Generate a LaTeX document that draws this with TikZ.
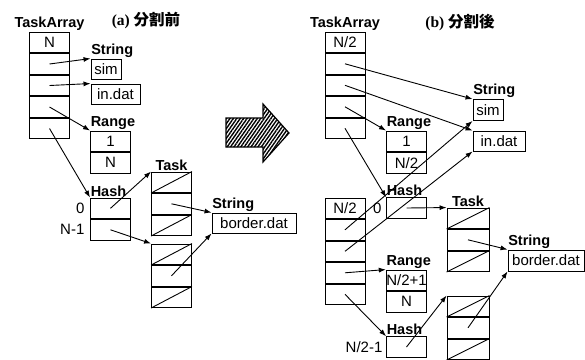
\documentclass[tikz,border=0pt]{standalone}
\usepackage{fontspec}
\setmainfont{Liberation Serif}
\setsansfont{Liberation Sans}
\newfontfamily\jpfont{Noto Sans CJK JP}
\usepackage{tikz}
\usetikzlibrary{arrows.meta,positioning,patterns.meta}
\tikzset{
  cell/.style={rectangle, draw=black, line width=0.9pt, inner sep=0pt, minimum width=40pt, minimum height=20.6pt, font=\sffamily\fontsize{15}{15}\selectfont},
  strbox/.style={rectangle, draw=black, line width=0.9pt, inner sep=0pt, minimum height=20pt, font=\sffamily\fontsize{15}{15}\selectfont},
  lbl/.style={inner sep=0.5pt, font=\sffamily\bfseries\fontsize{14.5}{15}\selectfont},
  idx/.style={inner sep=0.5pt, font=\sffamily\fontsize{15}{15}\selectfont},
  captxt/.style={inner sep=0pt, font=\fontsize{15.5}{16}\selectfont},
  ptr/.style={-{Latex[length=7pt,width=5pt]}, line width=0.9pt},
  slash/.style={line width=0.9pt},
  hatcharrow/.style={draw=black, line width=1.2pt, pattern={Lines[angle=55,distance=2.8pt,line width=1.4pt]}}
}
\begin{document}
\begin{tikzpicture}[x=1pt, y=-1pt]
  \useasboundingbox (0,0) rectangle (585,359);

  \node[captxt] (capa) at (146,21) {\textbf{(a)} {\jpfont\bfseries 分割前}};
  \node[captxt] (capb) at (460,22) {\textbf{(b)} {\jpfont\bfseries 分割後}};

  \node[cell] (lta1) at (49.5,42.5) {N};
  \node[cell, below=0pt of lta1] (lta2) {};
  \node[cell, below=0pt of lta2] (lta3) {};
  \node[cell, below=0pt of lta3] (lta4) {};
  \node[cell, below=0pt of lta4] (lta5) {};
  \node[lbl, above=0.5pt of lta1] (ltaname) {TaskArray};

  \node[strbox, minimum width=30pt] (lsim) at (106,69) {sim};
  \node[strbox, minimum width=49pt] (lindat) at (115.5,94) {in.dat};
  \node[lbl, above=0.5pt of lsim.north west, anchor=south west] (lsimname) {String};

  \node[cell] (lrng1) at (110.5,141.3) {1};
  \node[cell, below=0pt of lrng1] (lrng2) {N};
  \node[lbl, above=0.5pt of lrng1.north west, anchor=south west] (lrngname) {Range};

  \node[cell] (lhash1) at (110.5,208.3) {};
  \node[cell, below=0pt of lhash1] (lhash2) {};
  \node[lbl, above=0.5pt of lhash1.north west, anchor=south west] (lhashname) {Hash};
  \node[idx, left=5pt of lhash1] (lidx0) {0};
  \node[idx, left=5pt of lhash2] (lidxn) {N-1};

  \node[cell] (ltask1a) at (171.5,182.3) {};
  \node[cell, below=0pt of ltask1a] (ltask1b) {};
  \node[cell, below=0pt of ltask1b] (ltask1c) {};
  \node[lbl, above=0.5pt of ltask1a] (ltaskname) {Task};
  \node[cell] (ltask2a) at (171.5,254.3) {};
  \node[cell, below=0pt of ltask2a] (ltask2b) {};
  \node[cell, below=0pt of ltask2b] (ltask2c) {};

  \node[strbox, minimum width=84pt] (lstr) at (254,223) {border.dat};
  \node[lbl, above=0.5pt of lstr.north west, anchor=south west] (lstrname) {String};

  \draw[slash] (ltask1a.south west) -- (ltask1a.north east);
  \draw[slash] (ltask1c.south west) -- (ltask1c.north east);
  \draw[slash] (ltask2a.south west) -- (ltask2a.north east);
  \draw[slash] (ltask2c.south west) -- (ltask2c.north east);

  \draw[ptr] (lta2.center) -- (lsim.north west);
  \draw[ptr] (lta3.center) -- (lindat.north west);
  \draw[ptr] (lta4.center) -- (lrng1.north west);
  \draw[ptr] (lta5.center) -- (lhash1.north west);
  \draw[ptr] (lhash1.center) -- (ltask1a.north west);
  \draw[ptr] (lhash2.center) -- (ltask2a.north west);
  \draw[ptr] (ltask1b.center) -- (lstr.north west);
  \draw[ptr] (ltask2b.center) -- (lstr.south west);

  \draw[hatcharrow] (226,118) -- (263,118) -- (263,104) -- (289,133) -- (263,162) -- (263,147) -- (226,147) -- cycle;

  \node[cell] (rta1) at (345,42.3) {N/2};
  \node[cell, below=0pt of rta1] (rta2) {};
  \node[cell, below=0pt of rta2] (rta3) {};
  \node[cell, below=0pt of rta3] (rta4) {};
  \node[cell, below=0pt of rta4] (rta5) {};
  \node[lbl, above=0.5pt of rta1] (rtaname) {TaskArray};

  \node[cell] (rtb1) at (345,208.3) {N/2};
  \node[cell, below=0pt of rtb1] (rtb2) {};
  \node[cell, below=0pt of rtb2] (rtb3) {};
  \node[cell, below=0pt of rtb3] (rtb4) {};
  \node[cell, below=0pt of rtb4] (rtb5) {};

  \node[strbox, minimum width=30pt, minimum height=21pt] (rsim) at (488,110) {sim};
  \node[strbox, minimum width=52pt] (rindat) at (499,141) {in.dat};
  \node[lbl, above=0.5pt of rsim.north west, anchor=south west] (rsimname) {String};

  \node[cell] (rrng1) at (406.5,141.3) {1};
  \node[cell, below=0pt of rrng1] (rrng2) {N/2};
  \node[lbl, above=0.5pt of rrng1.north west, anchor=south west] (rrngname) {Range};

  \node[cell] (rrngb1) at (406.5,280.3) {N/2+1};
  \node[cell, below=0pt of rrngb1] (rrngb2) {N};
  \node[lbl, above=0.5pt of rrngb1.north west, anchor=south west] (rrngbname) {Range};

  \node[cell] (rhash1) at (406.5,208) {};
  \node[lbl, above=0.5pt of rhash1.north west, anchor=south west] (rhashname) {Hash};
  \node[idx, left=4pt of rhash1] (ridx0) {0};

  \node[cell] (rhash2) at (406.5,347) {};
  \node[lbl, above=0.5pt of rhash2.north west, anchor=south west] (rhashbname) {Hash};
  \node[idx, left=3pt of rhash2] (ridxn) {N/2-1};

  \node[cell, minimum width=42pt] (rtask1a) at (468,218.3) {};
  \node[cell, minimum width=42pt, below=0pt of rtask1a] (rtask1b) {};
  \node[cell, minimum width=42pt, below=0pt of rtask1b] (rtask1c) {};
  \node[lbl, above=0.5pt of rtask1a] (rtaskname) {Task};
  \node[cell, minimum width=42pt] (rtask2a) at (468,306.3) {};
  \node[cell, minimum width=42pt, below=0pt of rtask2a] (rtask2b) {};
  \node[cell, minimum width=42pt, below=0pt of rtask2b] (rtask2c) {};

  \node[strbox, minimum width=76pt, minimum height=21pt] (rstr) at (546,260.5) {border.dat};
  \node[lbl, above=0.5pt of rstr.north west, anchor=south west] (rstrname) {String};

  \draw[slash] (rtask1a.south west) -- (rtask1a.north east);
  \draw[slash] (rtask1c.south west) -- (rtask1c.north east);
  \draw[slash] (rtask2a.south west) -- (rtask2a.north east);
  \draw[slash] (rtask2c.south west) -- (rtask2c.north east);

  \draw[ptr] (rta2.center) -- (rsim.north west);
  \draw[ptr] (rta3.center) -- (rindat.north west);
  \draw[ptr] (rta4.center) -- (rrng1.north west);
  \draw[ptr] (rta5.center) -- (rhash1.north west);
  \draw[ptr] (rtb2.center) -- (rsim.south west);
  \draw[ptr] (rtb3.center) -- (rindat.south west);
  \draw[ptr] (rtb4.center) -- (rrngb1.north west);
  \draw[ptr] (rtb5.center) -- (rhash2.north west);
  \draw[ptr] (rhash1.center) -- (rtask1a.north west);
  \draw[ptr] (rhash2.center) -- (rtask2a.north west);
  \draw[ptr] (rtask1b.center) -- (rstr.north west);
  \draw[ptr] (rtask2b.center) -- (rstr.south west);
\end{tikzpicture}
\end{document}
